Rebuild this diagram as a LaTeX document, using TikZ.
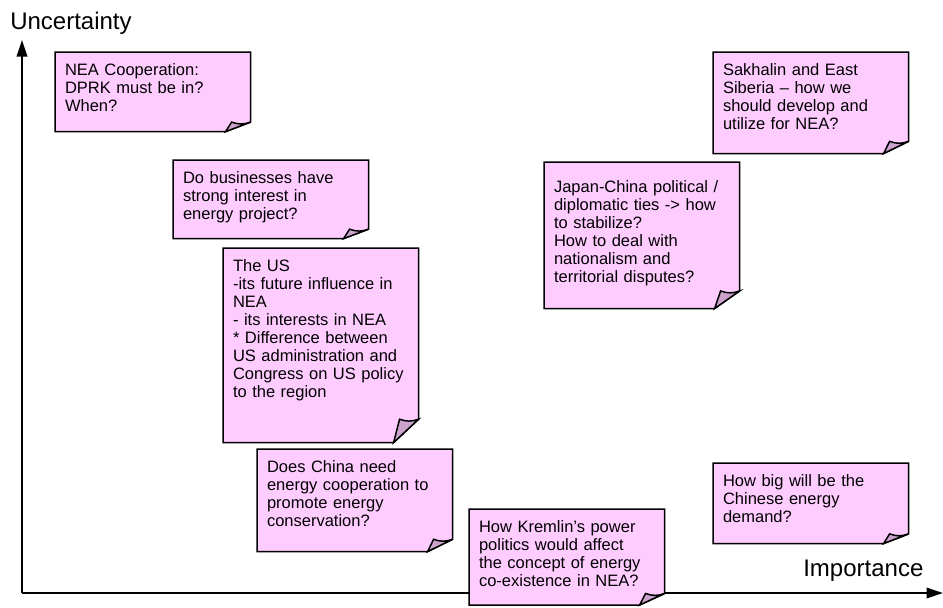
\documentclass[tikz,border=0pt]{standalone}
\usepackage{fontspec}
\setmainfont{Liberation Sans}
\usetikzlibrary{calc,arrows.meta,backgrounds}
\definecolor{notepink}{HTML}{FFCCFF}
\definecolor{foldpink}{HTML}{CCA3CC}
\begin{document}
\begin{tikzpicture}[x=0.6667pt, y=-0.6667pt]
    \tikzstyle{note} = [rectangle, anchor=north west, text width=117pt, align=left, inner xsep=6.5pt, inner ysep=7pt, text height=8.6pt, font=\fontsize{11}{12}\selectfont]
    \tikzstyle{axislabel} = [anchor=base west, inner sep=0pt, font=\fontsize{16}{19}\selectfont]
    \tikzstyle{axis} = [line width=1.3pt, -{Triangle[length=11pt, width=7pt]}]
    \useasboundingbox (0,0) rectangle (943,607);

    \coordinate (origin) at (22,593);
    \coordinate (ytip) at (22,40);
    \coordinate (xtip) at (943,593);
    \begin{pgfonlayer}{background}
        \draw [axis] (origin) -- (ytip);
        \draw [axis] (origin) -- (xtip);
    \end{pgfonlayer}
    \node (uncert) [axislabel] at (10,29) {Uncertainty};
    \node (import) [axislabel] at (803,576) {Importance};

    \node (nea) [note, text depth=30.1pt] at (55,52) {NEA Cooperation:\\DPRK must be in?\\When?};
    \node (biz) [note, text depth=29.4pt] at (173,160) {Do businesses have\\strong interest in\\energy project?};
    \node (us) [note, text depth=106.7pt] at (223,248) {The US\\-its future influence in\\NEA\\- its interests in NEA\\{}* Difference between\\US administration and\\Congress on US policy\\to the region};
    \node (china) [note, text depth=45.4pt] at (257,449) {Does China need\\energy cooperation to\\promote energy\\conservation?};
    \node (kremlin) [note, text depth=41pt] at (469,509) {How Kremlin’s power\\politics would affect\\the concept of energy\\co-existence in NEA?};
    \node (japan) [note, text height=12.9pt, text depth=70.4pt] at (544,162) {Japan-China political /\\diplomatic ties -> how\\to stabilize?\\How to deal with\\nationalism and\\territorial disputes?};
    \node (sakhalin) [note, text depth=44.7pt] at (713,52) {Sakhalin and East\\Siberia – how we\\should develop and\\utilize for NEA?};
    \node (demand) [note, text depth=30.7pt] at (713,463) {How big will be the\\Chinese energy\\demand?};

    % sticky notes with the folded corner
    \foreach \n in {nea,biz,us,china,kremlin,japan,sakhalin,demand} {
        \coordinate (fa) at ($(\n.south east)+(-25,0)$);
        \coordinate (fc) at ($(\n.south east)!0.12!(\n.north east)$);
        \coordinate (fb) at ($(fa |- fc)+(6,0)$);
        \begin{pgfonlayer}{background}
            \filldraw [fill=notepink, line width=1pt] (\n.north west) -- (\n.north east) -- (fc) -- (fa) -- (\n.south west) -- cycle;
        \end{pgfonlayer}
        \filldraw [fill=foldpink, line width=1pt] (fa) -- (fb) to[bend right=20] (fc) -- cycle;
    }
\end{tikzpicture}
\end{document}
